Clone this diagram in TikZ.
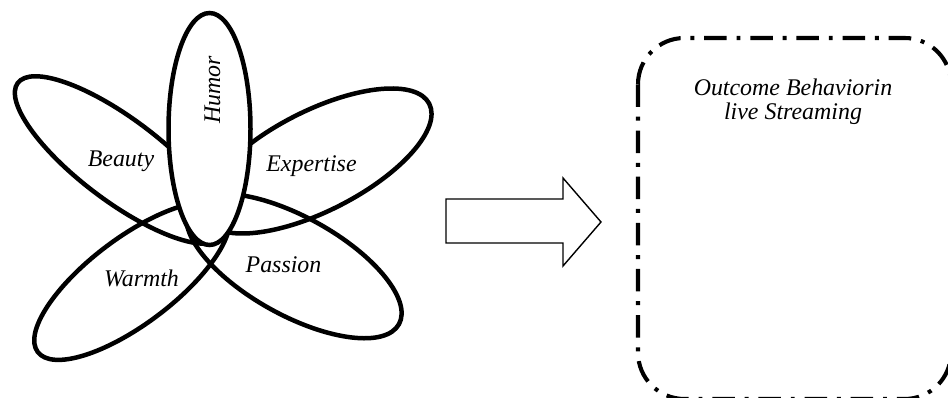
\documentclass[tikz,border=0pt]{standalone}
\usepackage{fontspec}
\setmainfont{Liberation Serif}
\usepackage{tikz}
\usepackage{xcolor}
\definecolor{inkblack}{rgb}{0, 0, 0}

\begin{document}
\begin{tikzpicture}[x=0.025cm, y=-0.025cm,
    petal/.style={draw=inkblack, line width=3.2pt},
    petaltext/.style={font=\fontsize{17}{16.5}\selectfont\itshape, inner sep=0pt, anchor=base},
    outcomebox/.style={draw=inkblack, line width=2.9pt, rounded corners=33pt,
        dash pattern=on 16pt off 7pt on 2.8pt off 7pt}
]
            \useasboundingbox (0,0) rectangle (948,398);

            % petals of the flower
            \draw[petal, rotate around={-37:(120,160)}] (120,160) ellipse [x radius=128, y radius=41];
            \draw[petal, rotate around={27:(317,161)}]  (317,161) ellipse [x radius=126, y radius=50];
            \draw[petal, rotate around={37:(132,281)}]  (132,281) ellipse [x radius=118, y radius=43];
            \draw[petal, rotate around={-29:(294,266)}] (294,266) ellipse [x radius=120, y radius=49];
            \draw[petal, fill=white] (209.5,129) ellipse [x radius=41, y radius=116];

            \node[petaltext, rotate=90] (humor) at (220, 90) {Humor};
            \node[petaltext] (beauty)    at (121, 167) {Beauty};
            \node[petaltext] (expertise) at (311.5, 172) {Expertise};
            \node[petaltext] (warmth)    at (141.5, 287) {Warmth};
            \node[petaltext] (passion)   at (283.5, 273) {Passion};

            % block arrow
            \draw[inkblack, line width=1pt] (446,199) -- (563,199) -- (563,178) -- (601,222)
                -- (563,266) -- (563,243) -- (446,243) -- cycle;

            % outcome box
            \draw[outcomebox] (638,38) rectangle (951,399);
            \node[petaltext, anchor=north, align=center] (outcome) at (793, 79)
                {Outcome Behaviorin\\live Streaming};
\end{tikzpicture}
\end{document}
